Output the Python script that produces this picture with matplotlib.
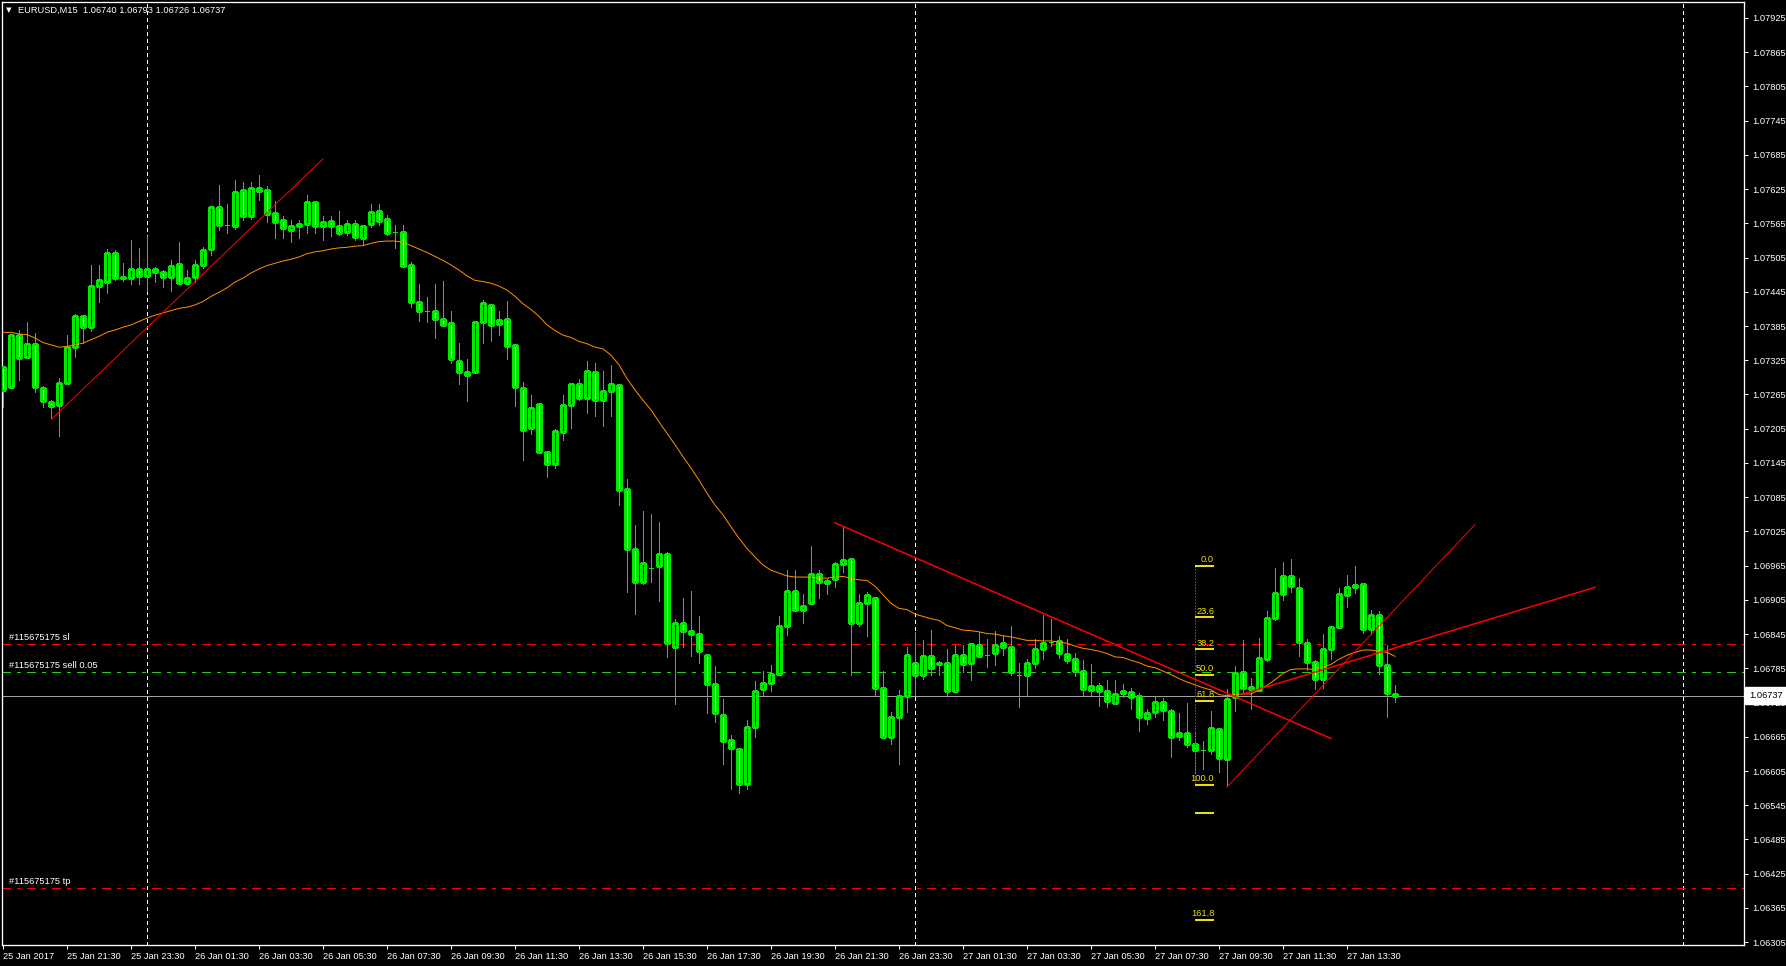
import matplotlib
matplotlib.use("Agg")
import matplotlib.pyplot as plt
from matplotlib.patches import Rectangle
import matplotlib.transforms as mtransforms

# EURUSD M15, 25 Jan 2017 19:30 .. 27 Jan 2017 15:00 (bar index 0..174)
opens = [
    1.07313, 1.07278, 1.07369, 1.07330, 1.07353, 1.07276, 1.07252, 1.07246, 1.07285, 1.07349,
    1.07402, 1.07384, 1.07456, 1.07463, 1.07513, 1.07469, 1.07470, 1.07485, 1.07472, 1.07485,
    1.07480, 1.07471, 1.07494, 1.07460, 1.07471, 1.07492, 1.07520, 1.07593, 1.07562, 1.07560,
    1.07624, 1.07577, 1.07627, 1.07624, 1.07583, 1.07570, 1.07553, 1.07560, 1.07564, 1.07602,
    1.07560, 1.07569, 1.07560, 1.07549, 1.07564, 1.07539, 1.07564, 1.07586, 1.07572, 1.07550,
    1.07550, 1.07492, 1.07427, 1.07412, 1.07411, 1.07397, 1.07390, 1.07323, 1.07304, 1.07304,
    1.07392, 1.07421, 1.07388, 1.07397, 1.07351, 1.07276, 1.07206, 1.07248, 1.07165, 1.07143,
    1.07200, 1.07246, 1.07283, 1.07258, 1.07304, 1.07256, 1.07271, 1.07281, 1.07100, 1.06994,
    1.06936, 1.06961, 1.06964, 1.06985, 1.06823, 1.06865, 1.06851, 1.06846, 1.06809, 1.06757,
    1.06704, 1.06659, 1.06643, 1.06583, 1.06683, 1.06748, 1.06759, 1.06775, 1.06859, 1.06920,
    1.06887, 1.06899, 1.06951, 1.06934, 1.06941, 1.06967, 1.06976, 1.06864, 1.06899, 1.06909,
    1.06750, 1.06664, 1.06699, 1.06736, 1.06794, 1.06773, 1.06806, 1.06795, 1.06794, 1.06745,
    1.06808, 1.06794, 1.06825, 1.06809, 1.06811, 1.06829, 1.06823, 1.06774, 1.06774, 1.06794,
    1.06818, 1.06831, 1.06833, 1.06810, 1.06801, 1.06781, 1.06747, 1.06754, 1.06745, 1.06724,
    1.06745, 1.06743, 1.06737, 1.06698, 1.06709, 1.06726, 1.06710, 1.06667, 1.06672, 1.06653,
    1.06641, 1.06641, 1.06679, 1.06626, 1.06735, 1.06778, 1.06752, 1.06747, 1.06802, 1.06874,
    1.06947, 1.06947, 1.06926, 1.06830, 1.06796, 1.06767, 1.06819, 1.06858, 1.06913, 1.06931,
    1.06933, 1.06854, 1.06878, 1.06791, 1.06740,
]
highs = [
    1.07315, 1.07371, 1.07378, 1.07392, 1.07373, 1.07280, 1.07256, 1.07294, 1.07369, 1.07406,
    1.07405, 1.07492, 1.07492, 1.07520, 1.07519, 1.07495, 1.07536, 1.07522, 1.07542, 1.07488,
    1.07484, 1.07501, 1.07533, 1.07484, 1.07501, 1.07523, 1.07593, 1.07633, 1.07599, 1.07641,
    1.07638, 1.07638, 1.07650, 1.07630, 1.07605, 1.07578, 1.07570, 1.07570, 1.07615, 1.07602,
    1.07578, 1.07578, 1.07587, 1.07570, 1.07571, 1.07560, 1.07599, 1.07599, 1.07580, 1.07562,
    1.07562, 1.07498, 1.07458, 1.07436, 1.07458, 1.07464, 1.07411, 1.07355, 1.07328, 1.07392,
    1.07431, 1.07421, 1.07411, 1.07429, 1.07351, 1.07287, 1.07264, 1.07249, 1.07165, 1.07205,
    1.07264, 1.07283, 1.07293, 1.07323, 1.07320, 1.07306, 1.07317, 1.07281, 1.07116, 1.07036,
    1.07061, 1.07055, 1.07041, 1.06989, 1.06872, 1.06908, 1.06920, 1.06877, 1.06809, 1.06789,
    1.06731, 1.06668, 1.06643, 1.06695, 1.06763, 1.06781, 1.06791, 1.06877, 1.06957, 1.06957,
    1.06915, 1.06999, 1.06958, 1.06941, 1.06972, 1.07032, 1.06976, 1.06916, 1.06918, 1.06909,
    1.06781, 1.06708, 1.06747, 1.06822, 1.06848, 1.06834, 1.06853, 1.06797, 1.06818, 1.06825,
    1.06825, 1.06830, 1.06848, 1.06836, 1.06851, 1.06843, 1.06860, 1.06795, 1.06802, 1.06836,
    1.06878, 1.06872, 1.06841, 1.06837, 1.06812, 1.06799, 1.06792, 1.06760, 1.06764, 1.06765,
    1.06757, 1.06751, 1.06742, 1.06714, 1.06736, 1.06733, 1.06713, 1.06706, 1.06724, 1.06672,
    1.06658, 1.06711, 1.06679, 1.06748, 1.06789, 1.06834, 1.06768, 1.06838, 1.06886, 1.06960,
    1.06972, 1.06976, 1.06944, 1.06837, 1.06800, 1.06845, 1.06860, 1.06926, 1.06948, 1.06965,
    1.06933, 1.06888, 1.06886, 1.06825, 1.06755,
]
lows = [
    1.07243, 1.07278, 1.07290, 1.07330, 1.07270, 1.07243, 1.07224, 1.07193, 1.07285, 1.07330,
    1.07355, 1.07377, 1.07428, 1.07443, 1.07466, 1.07464, 1.07459, 1.07459, 1.07446, 1.07463,
    1.07454, 1.07447, 1.07458, 1.07458, 1.07463, 1.07487, 1.07510, 1.07553, 1.07548, 1.07555,
    1.07571, 1.07572, 1.07606, 1.07568, 1.07540, 1.07540, 1.07532, 1.07540, 1.07548, 1.07548,
    1.07535, 1.07542, 1.07544, 1.07545, 1.07535, 1.07527, 1.07558, 1.07562, 1.07544, 1.07521,
    1.07490, 1.07419, 1.07393, 1.07392, 1.07364, 1.07385, 1.07321, 1.07284, 1.07254, 1.07304,
    1.07356, 1.07358, 1.07370, 1.07327, 1.07245, 1.07151, 1.07195, 1.07162, 1.07120, 1.07136,
    1.07186, 1.07207, 1.07256, 1.07233, 1.07228, 1.07210, 1.07228, 1.07072, 1.06918, 1.06880,
    1.06932, 1.06937, 1.06903, 1.06804, 1.06722, 1.06823, 1.06807, 1.06794, 1.06706, 1.06691,
    1.06618, 1.06574, 1.06567, 1.06573, 1.06664, 1.06738, 1.06745, 1.06775, 1.06843, 1.06885,
    1.06864, 1.06899, 1.06908, 1.06915, 1.06927, 1.06953, 1.06773, 1.06860, 1.06842, 1.06739,
    1.06663, 1.06653, 1.06618, 1.06708, 1.06738, 1.06766, 1.06774, 1.06773, 1.06738, 1.06745,
    1.06778, 1.06764, 1.06806, 1.06788, 1.06790, 1.06809, 1.06774, 1.06718, 1.06736, 1.06785,
    1.06801, 1.06824, 1.06803, 1.06795, 1.06771, 1.06739, 1.06739, 1.06719, 1.06717, 1.06723,
    1.06735, 1.06714, 1.06675, 1.06688, 1.06700, 1.06694, 1.06629, 1.06659, 1.06647, 1.06603,
    1.06609, 1.06635, 1.06603, 1.06578, 1.06710, 1.06742, 1.06713, 1.06747, 1.06798, 1.06869,
    1.06904, 1.06919, 1.06806, 1.06782, 1.06748, 1.06751, 1.06802, 1.06855, 1.06892, 1.06917,
    1.06847, 1.06846, 1.06775, 1.06699, 1.06726,
]
closes = [
    1.07273, 1.07369, 1.07329, 1.07353, 1.07278, 1.07253, 1.07244, 1.07285, 1.07349, 1.07403,
    1.07384, 1.07455, 1.07465, 1.07513, 1.07469, 1.07471, 1.07485, 1.07472, 1.07485, 1.07480,
    1.07471, 1.07491, 1.07460, 1.07469, 1.07492, 1.07519, 1.07593, 1.07562, 1.07562, 1.07620,
    1.07577, 1.07627, 1.07622, 1.07581, 1.07567, 1.07556, 1.07560, 1.07564, 1.07602, 1.07560,
    1.07567, 1.07560, 1.07548, 1.07564, 1.07541, 1.07560, 1.07585, 1.07569, 1.07548, 1.07550,
    1.07490, 1.07427, 1.07412, 1.07412, 1.07397, 1.07387, 1.07327, 1.07304, 1.07300, 1.07392,
    1.07425, 1.07386, 1.07395, 1.07350, 1.07278, 1.07203, 1.07241, 1.07165, 1.07143, 1.07201,
    1.07246, 1.07283, 1.07258, 1.07306, 1.07255, 1.07271, 1.07283, 1.07097, 1.06995, 1.06936,
    1.06969, 1.06961, 1.06985, 1.06829, 1.06865, 1.06850, 1.06846, 1.06815, 1.06757, 1.06706,
    1.06657, 1.06645, 1.06583, 1.06683, 1.06745, 1.06759, 1.06775, 1.06859, 1.06920, 1.06887,
    1.06895, 1.06951, 1.06936, 1.06938, 1.06967, 1.06974, 1.06865, 1.06899, 1.06913, 1.06750,
    1.06665, 1.06699, 1.06736, 1.06808, 1.06773, 1.06806, 1.06785, 1.06792, 1.06746, 1.06808,
    1.06792, 1.06827, 1.06806, 1.06809, 1.06825, 1.06822, 1.06778, 1.06774, 1.06794, 1.06818,
    1.06829, 1.06832, 1.06812, 1.06800, 1.06780, 1.06749, 1.06754, 1.06745, 1.06727, 1.06740,
    1.06742, 1.06735, 1.06700, 1.06707, 1.06726, 1.06712, 1.06665, 1.06672, 1.06653, 1.06641,
    1.06641, 1.06681, 1.06628, 1.06731, 1.06777, 1.06750, 1.06748, 1.06803, 1.06874, 1.06917,
    1.06916, 1.06930, 1.06831, 1.06796, 1.06767, 1.06819, 1.06858, 1.06916, 1.06928, 1.06928,
    1.06854, 1.06878, 1.06791, 1.06742, 1.06737,
]
# moving average as drawn on the chart (one value per bar)
ma_values = [
    1.07374, 1.07374, 1.07371, 1.07370, 1.07364, 1.07356, 1.07352, 1.07348, 1.07349, 1.07352,
    1.07355, 1.07361, 1.07367, 1.07374, 1.07378, 1.07383, 1.07387, 1.07393, 1.07399, 1.07404,
    1.07408, 1.07412, 1.07416, 1.07418, 1.07422, 1.07428, 1.07437, 1.07444, 1.07452, 1.07462,
    1.07469, 1.07478, 1.07485, 1.07491, 1.07495, 1.07499, 1.07502, 1.07506, 1.07512, 1.07515,
    1.07517, 1.07520, 1.07522, 1.07523, 1.07525, 1.07526, 1.07530, 1.07533, 1.07534, 1.07534,
    1.07532, 1.07526, 1.07520, 1.07514, 1.07507, 1.07500, 1.07492, 1.07483, 1.07473, 1.07465,
    1.07463, 1.07460, 1.07455, 1.07448, 1.07437, 1.07424, 1.07414, 1.07402, 1.07387, 1.07377,
    1.07369, 1.07365, 1.07358, 1.07354, 1.07348, 1.07345, 1.07334, 1.07317, 1.07293, 1.07273,
    1.07255, 1.07238, 1.07217, 1.07197, 1.07177, 1.07156, 1.07136, 1.07115, 1.07092, 1.07071,
    1.07054, 1.07033, 1.07013, 1.06995, 1.06980, 1.06966, 1.06957, 1.06952, 1.06947, 1.06945,
    1.06945, 1.06945, 1.06943, 1.06943, 1.06945, 1.06946, 1.06943, 1.06940, 1.06939, 1.06929,
    1.06914, 1.06899, 1.06890, 1.06888, 1.06880, 1.06876, 1.06872, 1.06869, 1.06860, 1.06856,
    1.06852, 1.06851, 1.06849, 1.06846, 1.06845, 1.06842, 1.06840, 1.06837, 1.06834, 1.06834,
    1.06833, 1.06833, 1.06831, 1.06829, 1.06824, 1.06820, 1.06818, 1.06815, 1.06811, 1.06805,
    1.06804, 1.06799, 1.06795, 1.06789, 1.06786, 1.06780, 1.06774, 1.06767, 1.06761, 1.06756,
    1.06751, 1.06747, 1.06739, 1.06737, 1.06739, 1.06740, 1.06740, 1.06747, 1.06755, 1.06765,
    1.06776, 1.06783, 1.06784, 1.06784, 1.06783, 1.06787, 1.06792, 1.06801, 1.06808, 1.06813,
    1.06817, 1.06817, 1.06815, 1.06813, 1.06806,
]

time_label_bars = [0, 8, 16, 24, 32, 40, 48, 56, 64, 72, 80, 88, 96, 104, 112, 120, 128, 136, 144, 152, 160, 168]
time_labels = [
    "25 Jan 2017", "25 Jan 21:30", "25 Jan 23:30", "26 Jan 01:30", "26 Jan 03:30", "26 Jan 05:30",
    "26 Jan 07:30", "26 Jan 09:30", "26 Jan 11:30", "26 Jan 13:30", "26 Jan 15:30", "26 Jan 17:30",
    "26 Jan 19:30", "26 Jan 21:30", "26 Jan 23:30", "27 Jan 01:30", "27 Jan 03:30", "27 Jan 05:30",
    "27 Jan 07:30", "27 Jan 09:30", "27 Jan 11:30", "27 Jan 13:30",
]
price_ticks = [1.06305 + 0.0006 * k for k in range(28)]
day_separators = [18, 114, 210]

# trend lines: start bar, start price, end bar, end price, width(px)
trend_x0 = [6.1, 104.0, 153.0, 155.0]
trend_p0 = [1.07222, 1.07040, 1.06577, 1.06740]
trend_x1 = [40.0, 166.0, 184.0, 199.0]
trend_p1 = [1.07678, 1.06662, 1.07037, 1.06927]
trend_w = [1.0, 1.5, 1.0, 1.5]

# order lines
sl_price = 1.06828
entry_price = 1.06778
tp_price = 1.06400
bid_price = 1.06737

# fibonacci retracement
fib_bar = 149.0
fib_high = 1.06965
fib_low = 1.06581
fib_levels = [0.0, 23.6, 38.2, 50.0, 61.8, 100.0, 113.0, 161.8]
fib_texts = ["0.0", "23.6", "38.2", "50.0", "61.8", "100.0", "", "161.8"]

W, H = 1786, 966
PX = 0.72  # one pixel in points at dpi 100
plt.rcParams["lines.scale_dashes"] = False
plt.rcParams["font.family"] = ["Liberation Sans", "DejaVu Sans"]
FS = 6.7

fig = plt.figure(figsize=(W / 100, H / 100), dpi=100, facecolor="black")
left_px, right_px, top_px, bot_px = 2, 1744, 2, 945
ax = fig.add_axes([left_px / W, (H - bot_px) / H, (right_px - left_px) / W, (bot_px - top_px) / H])
ax.set_facecolor("black")
ax.set_xlim((left_px - 3) / 8, (right_px - 3) / 8)
ax.set_ylim(1.06300, 1.07953)

green = "#00e800"

# candles
for i in range(len(opens)):
    o, h, l, c = opens[i], highs[i], lows[i], closes[i]
    ax.vlines(i, l, h, color=green, lw=PX, antialiased=False, zorder=3)
    if abs(c - o) < 0.000015:
        ax.hlines(o, i - 0.3, i + 0.3, color=green, lw=PX, antialiased=False, zorder=4)
    else:
        face = "black" if c > o else "white"
        ax.add_patch(Rectangle((i - 0.25, min(o, c)), 0.5, abs(c - o), facecolor=face,
                               edgecolor=green, lw=PX * 1.2, antialiased=False, zorder=4))

# moving average
ax.plot(range(len(ma_values)), ma_values, color="#ff8c00", lw=PX, zorder=5)

# trend lines
for x0, p0, x1, p1, w in zip(trend_x0, trend_p0, trend_x1, trend_p1, trend_w):
    ax.plot([x0, x1], [p0, p1], color="#ff0000", lw=PX * w, zorder=6)

# day separators
for d in day_separators:
    ax.axvline(d, color="white", lw=PX, dashes=(3 * PX, 3 * PX), antialiased=False, zorder=2)

# order lines
dashdot = (9 * PX, 6 * PX, 3 * PX, 6 * PX)
ax.axhline(sl_price, color="#ff0000", lw=PX, dashes=dashdot, antialiased=False, zorder=2)
ax.axhline(entry_price, color="#22cc22", lw=PX, dashes=dashdot, antialiased=False, zorder=2)
ax.axhline(tp_price, color="#ff0000", lw=PX, dashes=dashdot, antialiased=False, zorder=2)
ax.axhline(bid_price, color="#a0a0a0", lw=PX, antialiased=False, zorder=2)
for p, t in [(sl_price, "#115675175 sl"), (entry_price, "#115675175 sell 0.05"), (tp_price, "#115675175 tp")]:
    ax.text(0.75, p + 0.00004, t, color="white", fontsize=FS, ha="left", va="bottom", zorder=8)

# fibonacci
fib_prices = [fib_high - lv / 100.0 * (fib_high - fib_low) for lv in fib_levels]
ax.plot([fib_bar, fib_bar], [fib_high, fib_low], color="#ff0000", lw=PX,
        dashes=(1.5 * PX, 2 * PX), antialiased=False, zorder=6)
for p, t in zip(fib_prices, fib_texts):
    ax.hlines(p, fib_bar, fib_bar + 2.4, color="#f0e000", lw=PX * 1.5, antialiased=False, zorder=7)
    if t:
        ax.text(fib_bar + 2.4, p + 0.00003, t, color="#f0e000", fontsize=FS, ha="right", va="bottom", zorder=8)

# axes styling
for s in ax.spines.values():
    s.set_color("white")
    s.set_linewidth(PX * 1.3)
ax.yaxis.tick_right()
ax.set_yticks(price_ticks)
ax.set_yticklabels([f"{p:.5f}" for p in price_ticks])
ax.set_xticks(time_label_bars)
ax.set_xticklabels(time_labels)
for lab in ax.get_xticklabels():
    lab.set_horizontalalignment("left")
ax.tick_params(axis="y", colors="white", length=3, width=PX, labelsize=FS, pad=3)
ax.tick_params(axis="x", colors="white", length=3, width=PX, labelsize=FS, pad=2)

# current price box
trans = mtransforms.blended_transform_factory(ax.transAxes, ax.transData)
ax.text(1.0 + 5 / (right_px - left_px), bid_price, "1.06737", transform=trans, color="black",
        fontsize=FS, ha="left", va="center", clip_on=False, zorder=20,
        bbox=dict(facecolor="white", edgecolor="white", pad=0.4, boxstyle="square"))

# title
fig.text(6 / W, 1 - 10 / H, "\u25bc", color="white", fontsize=FS - 1.5, ha="left", va="center",
         family=["DejaVu Sans"])
fig.text(18 / W, 1 - 10 / H, "EURUSD,M15  1.06740 1.06793 1.06726 1.06737", color="white",
         fontsize=FS, ha="left", va="center")

fig.savefig("out.png", dpi=100, facecolor="black")
